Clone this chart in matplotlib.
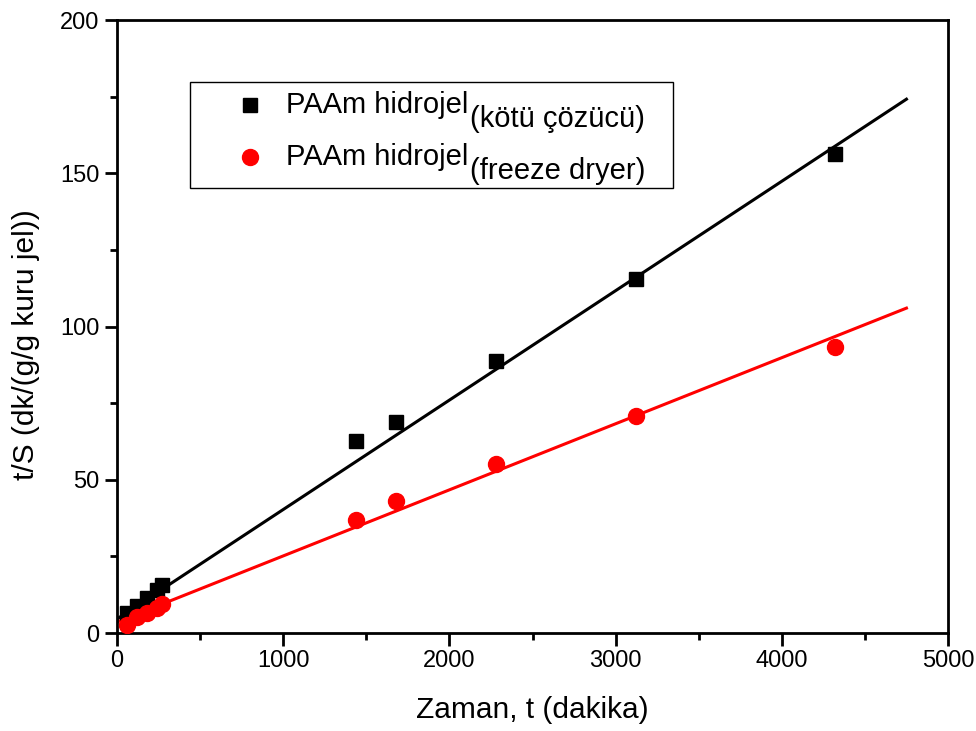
import numpy as np
import matplotlib
matplotlib.use('Agg')
import matplotlib.pyplot as plt
from matplotlib.ticker import MultipleLocator
from matplotlib.patches import Rectangle

plt.rcParams['font.family'] = ['Liberation Sans', 'DejaVu Sans']

# data
t_min = [60, 120, 180, 240, 270, 1440, 1680, 2280, 3120, 4320]
ts_kotu = [6.5, 8.8, 11.4, 14.0, 15.7, 62.6, 68.8, 88.7, 115.5, 156.3]
ts_freeze = [2.6, 5.2, 6.5, 8.2, 9.5, 36.9, 43.1, 55.1, 70.8, 93.3]

# fitted lines (intercept, slope)
fit_kotu = (4.6, 0.0357)
fit_freeze = (3.6, 0.02156)
fit_end = 4750

legend_main = ['PAAm hidrojel', 'PAAm hidrojel']
legend_sub = ['(kötü çözücü)', '(freeze dryer)']

fig = plt.figure(figsize=(9.76, 7.31), dpi=100)
ax = fig.add_axes([0.1199, 0.134, 0.8514, 0.8386])

xl = np.array([0, fit_end])
ax.plot(xl, fit_kotu[0] + fit_kotu[1] * xl, color='black', lw=2.2, zorder=2)
ax.plot(xl, fit_freeze[0] + fit_freeze[1] * xl, color='red', lw=2.2, zorder=2)

ax.plot(t_min, ts_kotu, 's', color='black', ms=10, zorder=3)
ax.plot(t_min, ts_freeze, 'o', color='red', ms=11.5, zorder=3)

ax.set_xlim(0, 5000)
ax.set_ylim(0, 200)
ax.xaxis.set_major_locator(MultipleLocator(1000))
ax.xaxis.set_minor_locator(MultipleLocator(500))
ax.yaxis.set_major_locator(MultipleLocator(50))
ax.yaxis.set_minor_locator(MultipleLocator(25))
ax.tick_params(which='major', direction='out', length=9, width=2, labelsize=17)
ax.tick_params(which='minor', direction='out', length=5, width=2)
for s in ax.spines.values():
    s.set_linewidth(2)

ax.set_xlabel('Zaman, t (dakika)', fontsize=21.5)
ax.set_ylabel('t/S (dk/(g/g kuru jel))', fontsize=21.5)
ax.xaxis.set_label_coords(0.5, -0.103)
ax.yaxis.set_label_coords(-0.093, 0.471)

# legend drawn by hand so the subscript can stay large
ax.add_patch(Rectangle((0.0878, 0.726), 0.5813, 0.173, transform=ax.transAxes,
                       facecolor='white', edgecolor='black', lw=1, zorder=4))
rows_y = [0.861, 0.7765]
markers = [('s', 'black', 10), ('o', 'red', 11.5)]
for yy, (mk, col, ms), main, sub in zip(rows_y, markers, legend_main, legend_sub):
    ax.plot([0.160], [yy], mk, color=col, ms=ms, transform=ax.transAxes,
            zorder=5, clip_on=False)
    t = ax.text(0.2035, yy, main, transform=ax.transAxes, fontsize=21,
                va='center', ha='left', zorder=5)
    ax.annotate(sub, xy=(1.0, 0.5), xycoords=t, xytext=(1, -10),
                textcoords='offset points', fontsize=21, va='center',
                ha='left', zorder=5)

fig.savefig('out.png', dpi=100)
